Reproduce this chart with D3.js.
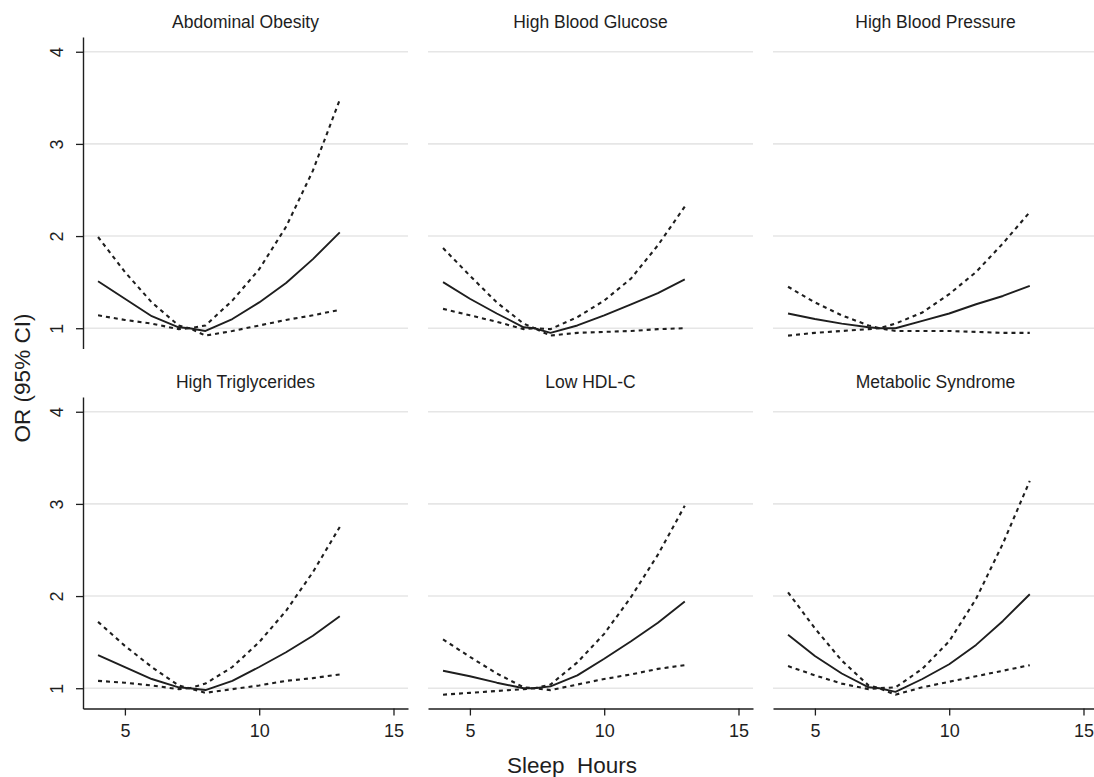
<!DOCTYPE html>
<html>
<head>
<meta charset="utf-8">
<script src="https://cdn.jsdelivr.net/npm/d3@7"></script>
<style>
  html, body { margin: 0; padding: 0; background: #fff; }
  svg { display: block; font-family: "Liberation Sans", Arial, Helvetica, sans-serif; }
</style>
</head>
<body>
<svg id="chart" width="1094" height="777"></svg>
<script>
// ---- data ----
const hours = [4, 5, 6, 7, 7.4, 8, 9, 10, 11, 12, 13];
const panelTitles = ["Abdominal Obesity", "High Blood Glucose", "High Blood Pressure",
                     "High Triglycerides", "Low HDL-C", "Metabolic Syndrome"];

const orAbdominal  = [1.51, 1.32, 1.13, 1.01, 1.00, 0.97, 1.10, 1.28, 1.49, 1.75, 2.04];
const upAbdominal  = [1.99, 1.61, 1.28, 1.03, 1.00, 1.03, 1.30, 1.64, 2.10, 2.71, 3.48];
const loAbdominal  = [1.14, 1.09, 1.05, 0.99, 1.00, 0.92, 0.97, 1.03, 1.09, 1.14, 1.20];

const orGlucose    = [1.50, 1.32, 1.16, 1.01, 1.00, 0.95, 1.03, 1.14, 1.26, 1.38, 1.53];
const upGlucose    = [1.87, 1.57, 1.28, 1.05, 1.00, 0.99, 1.12, 1.30, 1.54, 1.90, 2.32];
const loGlucose    = [1.21, 1.14, 1.07, 0.99, 1.00, 0.92, 0.95, 0.96, 0.97, 0.99, 1.00];

const orPressure   = [1.16, 1.10, 1.05, 1.01, 1.00, 1.00, 1.08, 1.16, 1.26, 1.35, 1.46];
const upPressure   = [1.45, 1.28, 1.14, 1.03, 1.00, 1.05, 1.17, 1.37, 1.61, 1.92, 2.26];
const loPressure   = [0.92, 0.95, 0.97, 0.99, 1.00, 0.97, 0.97, 0.97, 0.96, 0.95, 0.95];

const orTrig       = [1.36, 1.23, 1.10, 1.01, 1.00, 0.98, 1.08, 1.23, 1.39, 1.57, 1.78];
const upTrig       = [1.72, 1.46, 1.23, 1.03, 1.00, 1.05, 1.23, 1.50, 1.84, 2.26, 2.75];
const loTrig       = [1.08, 1.06, 1.03, 0.99, 1.00, 0.95, 0.99, 1.03, 1.08, 1.11, 1.15];

const orHDL        = [1.19, 1.13, 1.06, 1.00, 1.00, 1.02, 1.14, 1.32, 1.51, 1.71, 1.94];
const upHDL        = [1.53, 1.34, 1.16, 1.01, 1.00, 1.04, 1.28, 1.59, 1.99, 2.45, 2.98];
const loHDL        = [0.93, 0.95, 0.97, 0.99, 1.00, 0.98, 1.04, 1.10, 1.15, 1.21, 1.25];

const orMetS       = [1.58, 1.35, 1.16, 1.01, 1.00, 0.96, 1.10, 1.26, 1.47, 1.73, 2.02];
const upMetS       = [2.04, 1.65, 1.30, 1.03, 1.00, 1.01, 1.21, 1.51, 1.97, 2.57, 3.25];
const loMetS       = [1.24, 1.14, 1.05, 0.99, 1.00, 0.93, 1.01, 1.07, 1.13, 1.19, 1.25];

const xTicks = [5, 10, 15];
const yTicks = [1, 2, 3, 4];
const xLabel = "Sleep\u00a0\u00a0Hours";
const yLabel = "OR (95% CI)";

const panels = [
  { title: panelTitles[0], or: orAbdominal, up: upAbdominal, lo: loAbdominal },
  { title: panelTitles[1], or: orGlucose,   up: upGlucose,   lo: loGlucose },
  { title: panelTitles[2], or: orPressure,  up: upPressure,  lo: loPressure },
  { title: panelTitles[3], or: orTrig,      up: upTrig,      lo: loTrig },
  { title: panelTitles[4], or: orHDL,       up: upHDL,       lo: loHDL },
  { title: panelTitles[5], or: orMetS,      up: upMetS,      lo: loMetS }
];

// ---- layout ----
const colLeft = [83, 428, 773];
const rowTop = [37, 397];
const pw = 325, ph = 311.5;
const ink = "#1e1e1e";

const svg = d3.select("#chart");

const x = d3.scaleLinear().domain([3.44, 15.54]).range([0, pw]);
const y = d3.scaleLinear().domain([0.78, 4.16]).range([ph, 0]);

const line = d3.line().x(d => x(d[0])).y(d => y(d[1]));

panels.forEach((p, i) => {
  const c = i % 3, r = Math.floor(i / 3);
  const g = svg.append("g").attr("transform", `translate(${colLeft[c]},${rowTop[r]})`);

  // gridlines
  g.selectAll("line.grid").data(yTicks).enter().append("line")
    .attr("class", "grid")
    .attr("x1", 0).attr("x2", pw)
    .attr("y1", d => y(d)).attr("y2", d => y(d))
    .attr("stroke", "#e6e6e6").attr("stroke-width", 1.6);

  // title
  g.append("text")
    .attr("x", pw / 2).attr("y", -9)
    .attr("text-anchor", "middle")
    .attr("font-size", 17.5).attr("fill", ink)
    .text(p.title);

  // CI lines
  [p.up, p.lo].forEach(arr => {
    g.append("path")
      .datum(hours.map((h, k) => [h, arr[k]]))
      .attr("d", line)
      .attr("fill", "none").attr("stroke", ink)
      .attr("stroke-width", 2.1).attr("stroke-dasharray", "4,4");
  });
  // OR line
  g.append("path")
    .datum(hours.map((h, k) => [h, p.or[k]]))
    .attr("d", line)
    .attr("fill", "none").attr("stroke", ink)
    .attr("stroke-width", 1.9).attr("stroke-linejoin", "round");

  // y axis (left column)
  if (c === 0) {
    const ya = g.append("g").call(d3.axisLeft(y).tickValues(yTicks).tickSize(7).tickSizeOuter(0).tickFormat(d3.format("d")));
    ya.select(".domain").attr("stroke", ink).attr("stroke-width", 1.4);
    ya.selectAll(".tick line").attr("stroke", ink).attr("stroke-width", 1.3);
    ya.selectAll(".tick text")
      .attr("font-size", 18).attr("fill", ink).attr("font-family", null)
      .attr("x", null).attr("dy", null)
      .attr("text-anchor", "middle")
      .attr("transform", "translate(-20,0) rotate(-90)");
  }
  // x axis (bottom row)
  if (r === 1) {
    const xa = g.append("g").attr("transform", `translate(0,${ph})`)
      .call(d3.axisBottom(x).tickValues(xTicks).tickSize(7).tickSizeOuter(0));
    xa.select(".domain").attr("stroke", ink).attr("stroke-width", 1.4);
    xa.selectAll(".tick line").attr("stroke", ink).attr("stroke-width", 1.3);
    xa.selectAll(".tick text")
      .attr("font-size", 18).attr("fill", ink).attr("font-family", null)
      .attr("y", 28.5).attr("dy", null);
  }
});

// axis titles
svg.append("text")
  .attr("transform", "translate(30,378) rotate(-90)")
  .attr("text-anchor", "middle")
  .attr("font-size", 22.5).attr("fill", ink)
  .text(yLabel);

svg.append("text")
  .attr("x", 572).attr("y", 773)
  .attr("text-anchor", "middle")
  .attr("font-size", 22.5).attr("fill", ink)
  .text(xLabel);
</script>
</body>
</html>
